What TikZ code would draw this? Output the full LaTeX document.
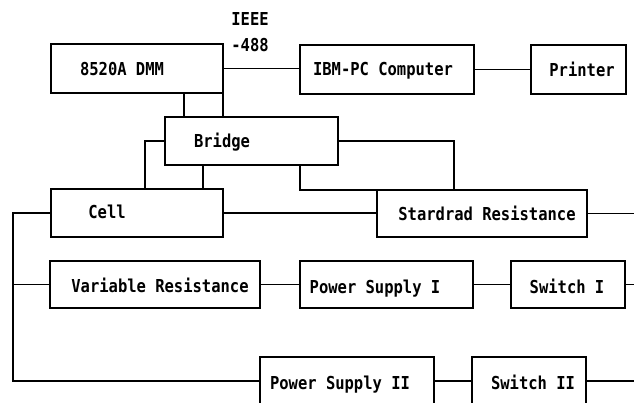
\documentclass[tikz,border=0pt]{standalone}
\usepackage{fontspec}
\setmonofont{DejaVu Sans Mono}
\newcommand\tall[1]{\scalebox{1}[1.15]{#1}}
\begin{document}
\begin{tikzpicture}[x=1pt,y=-1pt,
  box/.style={draw,line width=1.5pt,anchor=north west,inner sep=0pt,outer sep=0pt},
  lbl/.style={anchor=base,inner sep=0pt,font=\ttfamily\bfseries\fontsize{15.5}{18}\selectfont},
  wire/.style={line width=1.5pt}]
\useasboundingbox (0,0) rectangle (634,403);
\clip (0,0) rectangle (634,403);
% boxes
\node[box,minimum width=172pt,minimum height=49pt] (dmm) at (51,44) {};
\node[box,minimum width=174pt,minimum height=49pt] (ibm) at (300,45) {};
\node[box,minimum width=95pt,minimum height=49pt] (prn) at (531,45) {};
\node[box,minimum width=173pt,minimum height=48pt] (bridge) at (165,117) {};
\node[box,minimum width=172pt,minimum height=48pt] (cell) at (51,189) {};
\node[box,minimum width=210pt,minimum height=47pt] (std) at (377,190) {};
\node[box,minimum width=210pt,minimum height=47pt] (vr) at (50,261) {};
\node[box,minimum width=173pt,minimum height=47pt] (ps1) at (300,261) {};
\node[box,minimum width=114pt,minimum height=47pt] (sw1) at (511,261) {};
\node[box,minimum width=174pt,minimum height=48pt] (ps2) at (260,357) {};
\node[box,minimum width=114pt,minimum height=48pt] (sw2) at (472,357) {};
% labels
\node[lbl] (tdmm) at (122,76) {\tall{8520A DMM}};
\node[lbl] (tibm) at (383,76) {\tall{IBM-PC Computer}};
\node[lbl] (tprn) at (582,77) {\tall{Printer}};
\node[lbl] (tbr) at (222,148) {\tall{Bridge}};
\node[lbl] (tcell) at (107,219) {\tall{Cell}};
\node[lbl] (tstd) at (487,221) {\tall{Stardrad Resistance}};
\node[lbl] (tvr) at (160,292) {\tall{Variable Resistance}};
\node[lbl] (tps1) at (375,293) {\tall{Power Supply I}};
\node[lbl] (tsw1) at (567,293) {\tall{Switch I}};
\node[lbl] (tps2) at (340,389) {\tall{Power Supply II}};
\node[lbl] (tsw2) at (533,389) {\tall{Switch II}};
\node[lbl] (tieee) at (250,26) {\tall{IEEE}};
\node[lbl] (t488) at (250,52) {\tall{-488}};
% coordinates
\coordinate (edge) at (640,0);
\coordinate (lft) at (13,284.5);
% connectors
\draw[wire] (dmm.east) -- (dmm.east -| ibm.west);
\draw[wire] (ibm.east) -- (ibm.east -| prn.west);
\draw[wire] ([xshift=-39pt]dmm.south east) -- ([xshift=-39pt]dmm.south east |- bridge.north);
\draw[wire] (dmm.south east) -- (dmm.south east |- bridge.north);
\draw[wire] (bridge.west) -| ([xshift=94pt]cell.north west);
\draw[wire] ([xshift=38pt]bridge.south west) -- ([xshift=38pt]bridge.south west |- cell.north);
\draw[wire] (bridge.east) -| ([xshift=77pt]std.north west);
\draw[wire] ([xshift=135pt]bridge.south west) |- (std.north west);
\draw[wire] (cell.east) -- (cell.east -| std.west);
\draw[wire] (std.east) -- (std.east -| edge);
\draw[wire] (cell.west) -| (lft) |- (ps2.west);
\draw[wire] (lft) -- (vr.west);
\draw[wire] (vr.east) -- (ps1.west);
\draw[wire] (ps1.east) -- (sw1.west);
\draw[wire] (sw1.east) -- (sw1.east -| edge);
\draw[wire] (ps2.east) -- (sw2.west);
\draw[wire] (sw2.east) -- (sw2.east -| edge);
\end{tikzpicture}
\end{document}
